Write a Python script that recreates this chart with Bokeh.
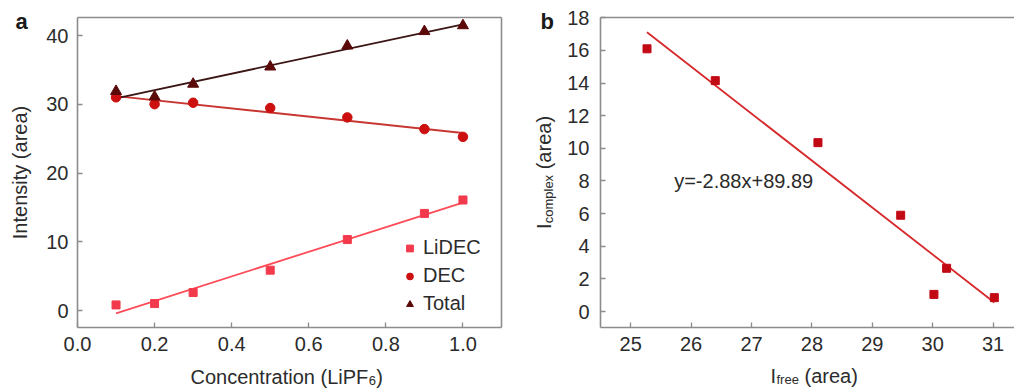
import math

import numpy as np
from bokeh.embed import file_html
from bokeh.models import (FixedTicker, GridBox, Label, Legend, LegendItem,
                          LinearAxis, NumeralTickFormatter, Range1d)
from bokeh.plotting import figure
from bokeh.resources import INLINE

# ---- data -----------------------------------------------------------------
conc = [0.1, 0.2, 0.3, 0.5, 0.7, 0.9, 1.0]          # LiPF6 concentration
lidec = [0.85, 1.05, 2.65, 5.9, 10.35, 14.15, 16.1]  # complexed carbonate
dec = [31.02, 30.02, 30.23, 29.47, 28.1, 26.4, 25.27]  # free carbonate
total = [31.9, 31.1, 32.95, 35.45, 38.5, 40.6, 41.45]

fit_slope = -2.88
fit_intercept = 89.89

x_ticks_a = [0.0, 0.2, 0.4, 0.6, 0.8, 1.0]
y_ticks_a = [0, 10, 20, 30, 40]
x_ticks_b = [25, 26, 27, 28, 29, 30, 31]
y_ticks_b = [0, 2, 4, 6, 8, 10, 12, 14, 16, 18]

# ---- style ----------------------------------------------------------------
FONT = "Liberation Sans"
FS = "20px"
SUB = "13px"
TEXT = "#2b2b2b"
GREY = "#8c8c8c"
C_LIDEC = "#f23a4c"
C_LIDEC_LINE = "#ff4b57"
C_DEC = "#cc1010"
C_DEC_LINE = "#c83632"
C_TOTAL = "#5a0808"
C_TOTAL_LINE = "#3c1515"
C_B = "#c20a14"
C_B_LINE = "#d6282a"

W, H = 1014, 390
TOP, BOTTOM = 17, 327
A_W, A_LEFT, A_RIGHT = 520, 77, 501
B_W, B_LEFT, B_RIGHT = 494, 600, 1014

XR_A = (0.0, 1.1)
YR_A = (-2.43, 42.62)
XR_B = (24.5, 31.354)
YR_B = (-0.98, 18.02)


def make_fig(width, left, right, xr, yr):
    p = figure(width=width, height=H, x_range=Range1d(*xr), y_range=Range1d(*yr),
               output_backend="svg", toolbar_location=None,
               min_border_left=left, min_border_right=right,
               min_border_top=TOP, min_border_bottom=H - BOTTOM)
    p.grid.visible = False
    p.outline_line_color = None
    p.background_fill_color = "white"
    p.border_fill_color = "white"
    return p


def style_axis(ax, ticks, standoff):
    ax.ticker = FixedTicker(ticks=ticks)
    ax.axis_line_color = GREY
    ax.axis_line_width = 1.6
    ax.major_tick_line_color = GREY
    ax.major_tick_line_width = 1.3
    ax.major_tick_in = 5
    ax.major_tick_out = 0
    ax.minor_tick_line_color = None
    ax.major_label_text_font = FONT
    ax.major_label_text_font_size = FS
    ax.major_label_text_color = TEXT
    ax.major_label_standoff = standoff


def bare_axis(p, side):
    ax = LinearAxis(ticker=FixedTicker(ticks=[]), axis_line_color=GREY,
                    axis_line_width=1.6, major_tick_line_color=None,
                    minor_tick_line_color=None, major_label_text_font_size="0px")
    p.add_layout(ax, side)


# ---- panel a: intensities vs concentration -------------------------------
pa = make_fig(A_W, A_LEFT, A_W - A_RIGHT, XR_A, YR_A)
style_axis(pa.xaxis[0], x_ticks_a, 9)
pa.xaxis[0].formatter = NumeralTickFormatter(format="0.0")
style_axis(pa.yaxis[0], y_ticks_a, 9)
bare_axis(pa, "above")
bare_axis(pa, "right")

cx = np.array(conc)
xs_fit = np.array([min(conc), max(conc)])
for ys, col in ((lidec, C_LIDEC_LINE), (dec, C_DEC_LINE), (total, C_TOTAL_LINE)):
    k, b = np.polyfit(cx, np.array(ys), 1)
    pa.line(xs_fit, k * xs_fit + b, line_color=col, line_width=1.8)

r_li = pa.scatter(conc, lidec, marker="square", size=8, fill_color=C_LIDEC,
                  line_color=C_LIDEC)
r_dec = pa.scatter(conc, dec, marker="circle", size=9.5, fill_color=C_DEC,
                   line_color=C_DEC)
r_tot = pa.scatter(conc, total, marker="triangle", size=11, fill_color=C_TOTAL,
                   line_color=C_TOTAL)

legend = Legend(items=[LegendItem(label="LiDEC", renderers=[r_li]),
                       LegendItem(label="DEC", renderers=[r_dec]),
                       LegendItem(label="Total", renderers=[r_tot])],
                location=(324, 12), orientation="vertical",
                border_line_color=None, background_fill_alpha=0,
                padding=0, margin=0, spacing=5,
                glyph_width=17, glyph_height=22, label_height=22,
                label_standoff=5, label_text_font=FONT,
                label_text_font_size=FS, label_text_color=TEXT)
pa.add_layout(legend)

# ---- panel b: complexed vs free carbonate ---------------------------------
pb = make_fig(B_W, B_LEFT - A_W, 0, XR_B, YR_B)
style_axis(pb.xaxis[0], x_ticks_b, 9)
style_axis(pb.yaxis[0], y_ticks_b, 11)
bare_axis(pb, "above")

xb = np.array([min(dec), max(dec)])
pb.line(xb, fit_slope * xb + fit_intercept, line_color=C_B_LINE, line_width=1.8)
pb.scatter(dec, lidec, marker="square", size=8, fill_color=C_B, line_color=C_B)

eq = Label(x=25.72, y=8.0, text=f"y={fit_slope:.2f}x+{fit_intercept:.2f}",
           text_align="left", text_baseline="alphabetic", text_font=FONT,
           text_font_size=FS, text_color=TEXT)
pb.add_layout(eq)

# ---- titles layer: axis titles with subscripts and panel letters ---------
# A transparent canvas spanning both panels, in pixel units (y downwards).
ov = figure(width=W, height=H, x_range=Range1d(0, W), y_range=Range1d(H, 0),
            x_axis_type=None, y_axis_type=None, output_backend="svg",
            toolbar_location=None, min_border=0)
ov.frame_align = False
ov.grid.visible = False
ov.outline_line_color = None
ov.background_fill_color = None
ov.border_fill_color = None


def add_text(sx, sy, text, size=FS, angle=0.0, align="left",
             style="normal", color=TEXT):
    ov.add_layout(Label(x=sx, y=sy, text=text, angle=angle, text_align=align,
                        text_baseline="alphabetic", text_font=FONT,
                        text_font_size=size, text_font_style=style,
                        text_color=color))


UP = math.pi / 2
add_text(15, 20.5, "a", size="22px", style="bold", color="#1a1a1a")
add_text(540, 21, "b", size="22px", style="bold", color="#1a1a1a")

add_text(19.3, 172, "Intensity (area)", angle=UP, align="center")
add_text(367.8, 376.5, "Concentration (LiPF", align="right")
add_text(368.3, 379.5, "6", size=SUB)
add_text(375.8, 376.5, ")")

add_text(543.3, 228.4, "I", angle=UP)
add_text(547.5, 222.8, "complex", size=SUB, angle=UP)
add_text(543.3, 168.8, "(area)", angle=UP)
add_text(775.6, 375, "I", align="right")
add_text(776, 379, "free", size=SUB)
add_text(804, 375, "(area)")

layout = GridBox(children=[(pa, 0, 0), (pb, 0, 1), (ov, 0, 0, 1, 2)], spacing=0)
open("out.html", "w").write(file_html(layout, INLINE))
